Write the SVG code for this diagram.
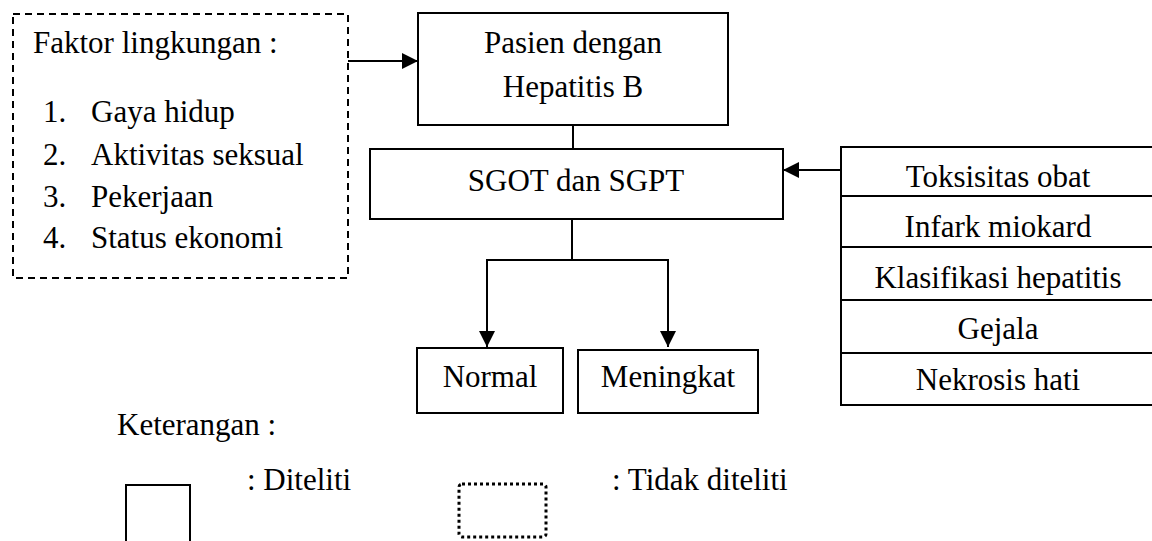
<svg xmlns="http://www.w3.org/2000/svg" width="1152" height="541" viewBox="0 0 1152 541" font-family="Liberation Serif" font-size="31" fill="#000">
<defs>
<marker id="ahb" viewBox="0 0 16 16" refX="16" refY="8" markerWidth="16" markerHeight="16" markerUnits="userSpaceOnUse" orient="auto">
<path d="M0,0 L16,8 L0,16 z" fill="#000"/>
</marker>
<clipPath id="cr3"><rect x="841" y="247" width="311" height="51"/></clipPath>
<clipPath id="cr4"><rect x="841" y="300" width="311" height="51"/></clipPath>
</defs>
<g id="connectors" fill="none" stroke="#000" stroke-width="2">
<line x1="348" y1="61" x2="418" y2="61" marker-end="url(#ahb)"/>
<line x1="573" y1="125" x2="573" y2="149"/>
<line x1="841" y1="170" x2="783" y2="170" marker-end="url(#ahb)"/>
<polyline points="572,219 572,260 487,260 487,347" marker-end="url(#ahb)"/>
<polyline points="572,260 668,260 668,347" marker-end="url(#ahb)"/>
</g>
<g id="faktor">
<rect x="13" y="14" width="335" height="264" fill="none" stroke="#000" stroke-width="2" stroke-dasharray="7,5"/>
<text style="font-family:Liberation Serif,serif !important" x="33" y="53">Faktor lingkungan :</text>
<text style="font-family:Liberation Serif,serif !important" x="43" y="122">1.</text>
<text style="font-family:Liberation Serif,serif !important" x="91" y="122">Gaya hidup</text>
<text style="font-family:Liberation Serif,serif !important" x="43" y="165">2.</text>
<text style="font-family:Liberation Serif,serif !important" x="91" y="165">Aktivitas seksual</text>
<text style="font-family:Liberation Serif,serif !important" x="43" y="207">3.</text>
<text style="font-family:Liberation Serif,serif !important" x="91" y="207">Pekerjaan</text>
<text style="font-family:Liberation Serif,serif !important" x="43" y="248">4.</text>
<text style="font-family:Liberation Serif,serif !important" x="91" y="248">Status ekonomi</text>
</g>
<g id="pasien" text-anchor="middle">
<rect x="418" y="13" width="310" height="112" fill="#fff" stroke="#000" stroke-width="2"/>
<text style="font-family:Liberation Serif,serif !important" x="573" y="53">Pasien dengan</text>
<text style="font-family:Liberation Serif,serif !important" x="573" y="97">Hepatitis B</text>
</g>
<g id="sgot" text-anchor="middle">
<rect x="370" y="149" width="413" height="70" fill="#fff" stroke="#000" stroke-width="2"/>
<text style="font-family:Liberation Serif,serif !important" x="576" y="191">SGOT dan SGPT</text>
</g>
<g id="faktor-lain" text-anchor="middle">
<rect x="841" y="147" width="320" height="258" fill="#fff" stroke="#000" stroke-width="2"/>
<g stroke="#000" stroke-width="2">
<line x1="841" y1="196" x2="1152" y2="196"/>
<line x1="841" y1="247" x2="1152" y2="247"/>
<line x1="841" y1="300" x2="1152" y2="300"/>
<line x1="841" y1="353" x2="1152" y2="353"/>
</g>
<text style="font-family:Liberation Serif,serif !important" x="998" y="187">Toksisitas obat</text>
<text style="font-family:Liberation Serif,serif !important" x="998" y="237">Infark miokard</text>
<text style="font-family:Liberation Serif,serif !important" x="998" y="288" clip-path="url(#cr3)">Klasifikasi hepatitis</text>
<text style="font-family:Liberation Serif,serif !important" x="998" y="339" clip-path="url(#cr4)">Gejala</text>
<text style="font-family:Liberation Serif,serif !important" x="998" y="390">Nekrosis hati</text>
</g>
<g id="normal" text-anchor="middle">
<rect x="417" y="348" width="146" height="65" fill="#fff" stroke="#000" stroke-width="2"/>
<text style="font-family:Liberation Serif,serif !important" x="490" y="387">Normal</text>
</g>
<g id="meningkat" text-anchor="middle">
<rect x="578" y="350" width="180" height="63" fill="#fff" stroke="#000" stroke-width="2"/>
<text style="font-family:Liberation Serif,serif !important" x="668" y="387">Meningkat</text>
</g>
<g id="legend">
<text style="font-family:Liberation Serif,serif !important" x="117" y="435">Keterangan :</text>
<rect x="126" y="485" width="64" height="70" fill="none" stroke="#000" stroke-width="2"/>
<text style="font-family:Liberation Serif,serif !important" x="247" y="490">: Diteliti</text>
<rect x="459" y="484" width="87" height="53" rx="3" fill="none" stroke="#000" stroke-width="3" stroke-dasharray="3,3"/>
<text style="font-family:Liberation Serif,serif !important" x="612" y="490">: Tidak diteliti</text>
</g>
</svg>
